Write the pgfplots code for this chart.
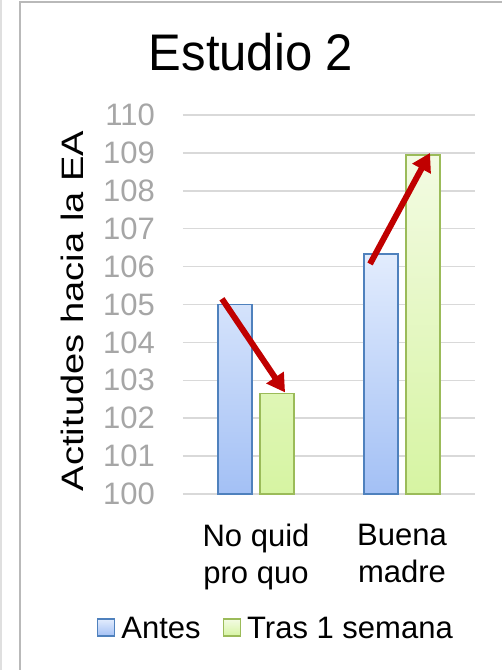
\documentclass[border=0pt]{standalone}
\usepackage{fontspec}
\setmainfont{Liberation Sans}
\usepackage{pgfplots}
\pgfplotsset{compat=1.18}
\usetikzlibrary{arrows.meta}
\definecolor{gridc}{HTML}{D9D9D9}
\definecolor{tickc}{HTML}{A6A6A6}
\definecolor{blueB}{HTML}{4F81BD}
\definecolor{blueT}{HTML}{E2ECFD}
\definecolor{blueD}{HTML}{A3C0F5}
\definecolor{greenB}{HTML}{9BBB59}
\definecolor{greenT}{HTML}{F3FBE3}
\definecolor{greenD}{HTML}{D6F4A2}
\definecolor{arrowc}{HTML}{C00000}
\pgfplotsset{sqimg/.style={legend image code/.code={\draw[##1] (0pt,-8pt) rectangle (17pt,9pt);}}}
\begin{document}
\begin{tikzpicture}
\path[use as bounding box] (0pt,0pt) rectangle (502pt,-670pt);
\fill[white] (0pt,0pt) rectangle (502pt,-670pt);
\draw[gray!25, line width=1.5pt] (1pt,-670pt) -- (1pt,0pt);
\draw[gray!55, line width=2pt] (20pt,-670pt) -- (20pt,-2pt) -- (502pt,-2pt);
\node[anchor=base, font=\fontsize{49}{58}\selectfont] at (251pt,-70pt) {\scalebox{1}[1.05]{Estudio 2}};
\begin{axis}[
  at={(183pt,-494pt)}, anchor=south west,
  scale only axis, width=292pt, height=379pt,
  xmin=-0.5, xmax=1.5, ymin=100, ymax=110,
  ytick={100,101,...,110},
  xtick={0,1},
  xticklabels={{No quid\\pro quo},{Buena\\madre}},
  axis line style={draw=none},
  major tick length=0pt,
  ymajorgrids, grid style={gridc, line width=1.5pt},
  /pgf/number format/assume math mode=true,
  yticklabel style={font=\fontsize{31}{37}\selectfont, text=tickc, anchor=east, inner sep=0pt, xshift=-28pt},
  xticklabel style={font=\fontsize{31}{37}\selectfont, align=center, anchor=north, inner sep=0pt, yshift=-30pt},
  ylabel={\scalebox{1.23}[1]{Actitudes hacia la EA}},
  ylabel style={font=\fontsize{31}{37}\selectfont, at={(axis description cs:-0.38,0.483)}, anchor=center},
  legend style={at={(rel axis cs:0.318,-0.354)}, anchor=center, draw=none, fill=none,
    font=\fontsize{31}{37}\selectfont, legend columns=2,
    /tikz/every odd column/.append style={column sep=4pt},
    /tikz/every even column/.append style={column sep=20pt}},
]
\addplot[ybar, bar width=34pt, bar shift=-21pt, draw=blueB, line width=1.5pt, top color=blueT, bottom color=blueD, forget plot]
  coordinates {(0,105.0) (1,106.33)};
\addplot[ybar, bar width=34pt, bar shift=21pt, draw=greenB, line width=1.5pt, top color=greenT, bottom color=greenD, forget plot]
  coordinates {(0,102.65) (1,108.95)};
\addplot[arrowc, line width=6pt, -{Triangle[width=20pt,length=18pt]}, forget plot]
  coordinates {(-0.233,105.15) (0.199,102.68)};
\addplot[arrowc, line width=6pt, -{Triangle[width=20pt,length=18pt]}, forget plot]
  coordinates {(0.781,106.07) (1.192,109.0)};
\addlegendimage{sqimg, draw=blueB, line width=1.5pt, top color=blueT, bottom color=blueD}
\addlegendentry{Antes}
\addlegendimage{sqimg, draw=greenB, line width=1.5pt, top color=greenT, bottom color=greenD}
\addlegendentry{Tras 1 semana}
\end{axis}
\end{tikzpicture}
\end{document}
